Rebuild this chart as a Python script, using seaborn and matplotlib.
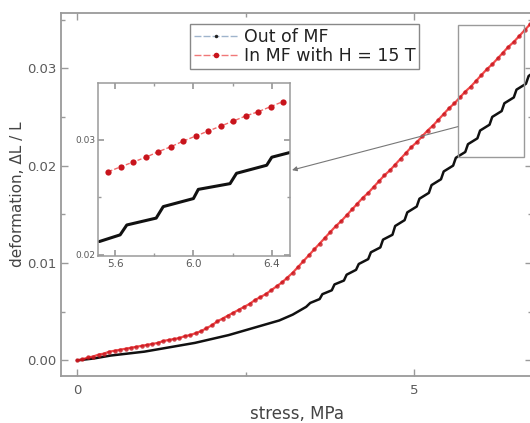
import matplotlib
matplotlib.use("Agg")
import matplotlib.pyplot as plt
import seaborn as sns
import pandas as pd
from matplotlib.lines import Line2D
from matplotlib.patches import Rectangle
from matplotlib.ticker import MultipleLocator, FormatStrFormatter

# ---------------- data ----------------
stress_out = [0.00, 0.25, 0.50, 0.75, 1.00, 1.25, 1.50, 1.75, 2.00, 2.25, 2.50, 2.75, 3.00, 3.20, 3.40,
              3.46, 3.60, 3.64, 3.78, 3.82, 3.96, 4.00, 4.14, 4.18, 4.32, 4.36, 4.50, 4.54, 4.68,
              4.72, 4.86, 4.90, 5.04, 5.08, 5.22, 5.26, 5.40, 5.44, 5.58, 5.62, 5.76, 5.80, 5.94,
              5.98, 6.12, 6.16, 6.30, 6.34, 6.48, 6.52, 6.66, 6.70, 6.76]
deform_out = [0.0000, 0.0002, 0.0005, 0.0007, 0.0009, 0.0012, 0.0015, 0.0018, 0.0022, 0.0026, 0.0031,
              0.0036, 0.0041, 0.0047, 0.0055,
              0.0059, 0.0063, 0.0068, 0.0072, 0.0078, 0.0082, 0.0088, 0.0093, 0.0099, 0.0104, 0.0111,
              0.0116, 0.0124, 0.0129, 0.0138, 0.0144, 0.0152, 0.0158, 0.0166, 0.0172, 0.0180, 0.0186,
              0.0194, 0.0200, 0.0208, 0.0214, 0.0222, 0.0228, 0.0236, 0.0242, 0.0250, 0.0256, 0.0264,
              0.0270, 0.0278, 0.0284, 0.0292, 0.0295]

stress_in = [0.00, 0.08, 0.16, 0.24, 0.32, 0.40, 0.48, 0.56, 0.64, 0.72, 0.80, 0.88, 0.96, 1.04, 1.12,
             1.20, 1.28, 1.36, 1.44, 1.52, 1.60, 1.68, 1.76, 1.84, 1.92, 2.00, 2.08, 2.16, 2.24, 2.32,
             2.40, 2.48, 2.56, 2.64, 2.72, 2.80, 2.88, 2.96, 3.04, 3.12, 3.20, 3.28, 3.36, 3.44, 3.52,
             3.60, 3.68, 3.76, 3.84, 3.92, 4.00, 4.08, 4.16, 4.24, 4.32, 4.40, 4.48, 4.56, 4.64, 4.72,
             4.80, 4.88, 4.96, 5.04, 5.12, 5.20, 5.28, 5.36, 5.44, 5.52, 5.60, 5.68, 5.76, 5.84, 5.92,
             6.00, 6.08, 6.16, 6.24, 6.32, 6.40, 6.48, 6.56, 6.64, 6.72]
deform_in = [0.0000, 0.0001, 0.0003, 0.0004, 0.0006, 0.0007, 0.0009, 0.0010, 0.0011, 0.0012, 0.0013,
             0.0014, 0.0015, 0.0016, 0.0017, 0.0018, 0.0020, 0.0021, 0.0022, 0.0023, 0.0025, 0.0026,
             0.0028, 0.0030, 0.0033, 0.0036, 0.0040, 0.0043, 0.0046, 0.0049, 0.0052, 0.0055, 0.0058,
             0.0062, 0.0065, 0.0068, 0.0072, 0.0076, 0.0080, 0.0085, 0.0090, 0.0096, 0.0102, 0.0108,
             0.0114, 0.0120, 0.0126, 0.0132, 0.0138, 0.0143, 0.0149, 0.0155, 0.0161, 0.0167, 0.0172,
             0.0178, 0.0184, 0.0190, 0.0195, 0.0201, 0.0207, 0.0213, 0.0219, 0.0224, 0.0230, 0.0236,
             0.0241, 0.0247, 0.0253, 0.0259, 0.0264, 0.0270, 0.0276, 0.0281, 0.0287, 0.0293, 0.0299,
             0.0304, 0.0310, 0.0316, 0.0322, 0.0327, 0.0333, 0.0339, 0.0345]

# inset (zoomed view)
inset_stress_out = [5.52, 5.626, 5.66, 5.81, 5.846, 6.00, 6.025, 6.187, 6.22, 6.374, 6.40, 6.49]
inset_deform_out = [0.02116, 0.02174, 0.0226, 0.0232, 0.0242, 0.0249, 0.0257, 0.0262, 0.0271,
                    0.0278, 0.0285, 0.0289]
inset_stress_in = [5.566, 5.631, 5.694, 5.758, 5.821, 5.886, 5.949, 6.013, 6.076, 6.141, 6.204,
                   6.267, 6.331, 6.394, 6.455]
inset_deform_in = [0.02724, 0.02768, 0.02809, 0.02850, 0.02898, 0.02942, 0.02991, 0.03035, 0.03078,
                   0.03122, 0.03165, 0.03209, 0.03246, 0.03290, 0.03333]

label_out = "Out of MF"
label_in = "In MF with H = 15 T"
x_label = "stress, MPa"
y_label = "deformation, \u0394L / L"

# ---------------- style ----------------
sns.set_theme(style="ticks")
plt.rcParams["font.family"] = ["DejaVu Sans"]

SPINE = "#9a9a9a"
TXT = "#5a5a5a"
RED = "#ee1c1c"
RED_DOT = "#c8141c"

fig = plt.figure(figsize=(5.30, 4.23), dpi=100)
W, H = 530.0, 423.0

# main axes
ax = fig.add_axes([61 / W, (H - 376) / H, (532 - 61) / W, (376 - 12.7) / H])

df_out = pd.DataFrame({"x": stress_out, "y": deform_out})
df_in = pd.DataFrame({"x": stress_in, "y": deform_in})

sns.lineplot(data=df_out, x="x", y="y", ax=ax, color="#111111", lw=1.8,
             estimator=None, sort=False, legend=False)
sns.lineplot(data=df_in, x="x", y="y", ax=ax, color=RED, lw=1.6, alpha=0.8,
             marker="o", markersize=3.2, markerfacecolor=RED_DOT, markeredgewidth=0,
             estimator=None, sort=False, legend=False)

ax.set_xlim(-0.237, 6.75)
ax.set_ylim(-0.0016, 0.0357)
ax.xaxis.set_major_locator(MultipleLocator(5))
ax.xaxis.set_minor_locator(MultipleLocator(2.5))
ax.yaxis.set_major_locator(MultipleLocator(0.01))
ax.yaxis.set_minor_locator(MultipleLocator(0.005))
ax.yaxis.set_major_formatter(FormatStrFormatter("%.2f"))
ax.tick_params(which="both", direction="in", top=True, right=True, color=SPINE,
               labelcolor=TXT)
ax.tick_params(which="major", length=5, width=1, labelsize=9.5)
ax.tick_params(axis="x", which="major", pad=5.5)
ax.tick_params(which="minor", length=3, width=1)
for s in ax.spines.values():
    s.set_color(SPINE)
    s.set_linewidth(1.3)

ax.set_xlabel(x_label, fontsize=12, color="#444444", labelpad=6)
ax.set_ylabel(y_label, fontsize=11, color="#444444")
ax.yaxis.set_label_coords(-0.076, 0.5)

# zoom box and arrow
ax.add_patch(Rectangle((5.65, 0.0209), 0.98, 0.0135, fill=False, edgecolor=SPINE, lw=1.0, zorder=3))
ax.annotate("", xy=(3.19, 0.01954), xytext=(5.65, 0.0240),
            arrowprops=dict(arrowstyle="-|>", color="#777777", lw=0.8, mutation_scale=7,
                            shrinkA=0, shrinkB=0), zorder=3)

# legend
handles = [
    Line2D([], [], color="#9fb4cc", lw=1.0, ls=(0, (5, 1.5)), marker="o", markersize=2.5,
           markerfacecolor="#222222", markeredgewidth=0),
    Line2D([], [], color="#f07878", lw=1.0, ls=(0, (5, 1.5)), marker="o", markersize=4,
           markerfacecolor=RED_DOT, markeredgewidth=0),
]
leg = ax.legend(handles, [label_out, label_in], loc="upper left",
                bbox_to_anchor=(0.274, 0.968), fontsize=12.5, frameon=True, fancybox=False,
                edgecolor="#888888", framealpha=1, borderpad=0.2, labelspacing=0.08,
                handlelength=2.6, handletextpad=0.3, borderaxespad=0)
leg.get_frame().set_linewidth(1.0)
for t in leg.get_texts():
    t.set_color("#222222")

# inset axes
axi = fig.add_axes([98 / W, (H - 256) / H, 192 / W, 173 / H])
df_iout = pd.DataFrame({"x": inset_stress_out, "y": inset_deform_out})
df_iin = pd.DataFrame({"x": inset_stress_in, "y": inset_deform_in})
sns.lineplot(data=df_iout, x="x", y="y", ax=axi, color="#111111", lw=2.2,
             estimator=None, sort=False, legend=False)
sns.lineplot(data=df_iin, x="x", y="y", ax=axi, color="#f26a6a", lw=1.0, ls=(0, (3, 1.5)),
             marker="o", markersize=4.5, markerfacecolor=RED_DOT, markeredgewidth=0,
             estimator=None, sort=False, legend=False)
axi.set_xlim(5.513, 6.493)
axi.set_ylim(0.0199, 0.03496)
axi.xaxis.set_major_locator(MultipleLocator(0.4))
axi.xaxis.set_minor_locator(MultipleLocator(0.2))
axi.yaxis.set_major_locator(MultipleLocator(0.01))
axi.yaxis.set_minor_locator(MultipleLocator(0.005))
axi.xaxis.set_major_formatter(FormatStrFormatter("%.1f"))
axi.yaxis.set_major_formatter(FormatStrFormatter("%.2f"))
axi.tick_params(which="both", direction="in", top=True, right=True, color=SPINE, labelcolor=TXT)
axi.tick_params(axis="x", which="major", length=4, labelsize=7.5, pad=2)
axi.tick_params(axis="y", which="major", length=4, labelsize=6.5, pad=2)
axi.tick_params(which="minor", length=2)
axi.set_xlabel("")
axi.set_ylabel("")
for s in axi.spines.values():
    s.set_color(SPINE)
    s.set_linewidth(1.1)

fig.savefig("out.png", dpi=100)
